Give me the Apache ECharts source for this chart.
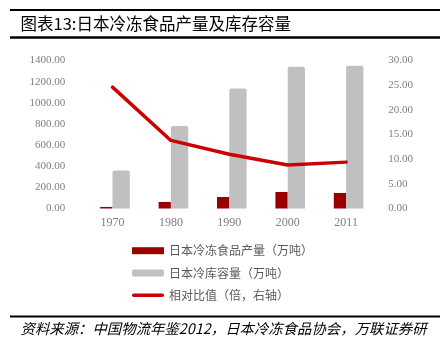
<!DOCTYPE html>
<html>
<head>
<meta charset="utf-8">
<script src="https://cdn.jsdelivr.net/npm/echarts@6/dist/echarts.min.js"></script>
<style>html,body{margin:0;padding:0;background:#fff;}#c{width:440px;height:345px;}</style>
</head>
<body>
<div id="c"></div>
<script>
const categories = ['1970', '1980', '1990', '2000', '2011'];
const production = [15, 62, 109, 156, 147];
const storage = [360, 780, 1135, 1340, 1350];
const ratio = [24.6, 13.8, 11.0, 8.8, 9.4];
const leftTicks = { min: 0, max: 1400, interval: 200 };
const rightTicks = { min: 0, max: 30, interval: 5 };
const spacer = [null, null, null, null, null];

const titleText = '图表13:日本冷冻食品产量及库存容量';
const sourceText = '资料来源：中国物流年鉴2012，日本冷冻食品协会，万联证券研';
const names = ['日本冷冻食品产量（万吨）', '日本冷库容量（万吨）', '相对比值（倍，右轴）'];

const CJK = '"Noto Sans CJK SC", sans-serif';
const NUM = '"Liberation Serif", "DejaVu Serif", serif';

const chart = echarts.init(document.getElementById('c'), null, { renderer: 'canvas' });
chart.setOption({
  animation: false,
  backgroundColor: '#fff',
  grid: { left: 83.3, right: 64.7, top: 60.5, bottom: 136.5, containLabel: false },
  legend: {
    orient: 'vertical',
    left: 132,
    top: 244.7,
    padding: 0,
    itemWidth: 32,
    itemHeight: 7,
    itemGap: 10.3,
    data: [
      { name: names[0], icon: 'rect' },
      { name: names[1], icon: 'roundRect' },
      { name: names[2], icon: 'path://M1.75,0 L30.25,0 A1.75,1.75 0 0 1 30.25,3.5 L1.75,3.5 A1.75,1.75 0 0 1 1.75,0 Z', itemStyle: { color: '#cc0000' } }
    ],
    textStyle: { fontFamily: CJK, fontSize: 12, color: '#595959' }
  },
  xAxis: {
    type: 'category',
    data: categories,
    boundaryGap: true,
    axisLine: { show: false },
    axisTick: { show: false },
    axisLabel: { margin: 8, fontFamily: NUM, fontSize: 12, color: '#7f7f7f' }
  },
  yAxis: [
    {
      type: 'value',
      min: leftTicks.min, max: leftTicks.max, interval: leftTicks.interval,
      splitLine: { show: false },
      axisLine: { show: false },
      axisTick: { show: false },
      axisLabel: { margin: 18, fontFamily: NUM, fontSize: 11, color: '#7f7f7f', formatter: v => v.toFixed(2) }
    },
    {
      type: 'value',
      position: 'right',
      min: rightTicks.min, max: rightTicks.max, interval: rightTicks.interval,
      splitLine: { show: false },
      axisLine: { show: false },
      axisTick: { show: false },
      axisLabel: { margin: 13, fontFamily: NUM, fontSize: 11, color: '#7f7f7f', formatter: v => v.toFixed(2) }
    }
  ],
  series: [
    {
      name: '_spacer', type: 'bar', data: spacer, barWidth: 5, barGap: 0,
      itemStyle: { color: 'rgba(0,0,0,0)' }, silent: true
    },
    {
      name: names[0], type: 'bar', data: production, barWidth: 12.3, barGap: 0,
      itemStyle: { color: '#990000' }
    },
    {
      name: names[1], type: 'bar', data: storage, barWidth: 17.3, barGap: 0,
      itemStyle: { color: '#c0c0c0', borderRadius: [2, 2, 0, 0] }
    },
    {
      name: names[2], type: 'line', yAxisIndex: 1, data: ratio,
      symbol: 'none', smooth: false,
      lineStyle: { color: '#cc0000', width: 3.5, cap: 'round', join: 'round' },
      itemStyle: { color: '#cc0000' },
      z: 5
    }
  ],
  graphic: [
    { type: 'line', shape: { x1: 10, y1: 10, x2: 440, y2: 10 }, style: { stroke: '#000', lineWidth: 2 } },
    { type: 'text', left: 20.5, top: 15.5, style: { text: titleText, font: '16.5px ' + CJK, fill: '#000' } },
    { type: 'line', shape: { x1: 10, y1: 37.5, x2: 440, y2: 37.5 }, style: { stroke: '#000', lineWidth: 2.5 } },
    { type: 'line', shape: { x1: 10, y1: 316.5, x2: 440, y2: 316.5 }, style: { stroke: '#000', lineWidth: 2 } },
    { type: 'text', left: 20.5, top: 321, style: { text: sourceText, font: 'italic 14.4px ' + CJK, fill: '#000' } }
  ]
});
</script>
</body>
</html>
